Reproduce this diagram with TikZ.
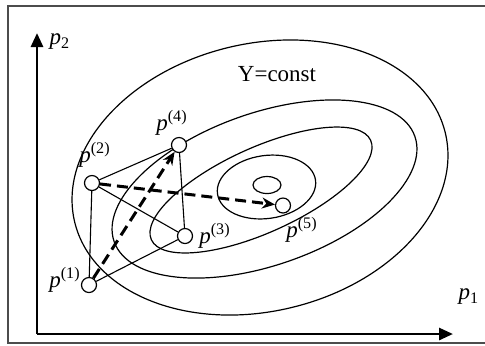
\documentclass[tikz,border=0pt]{standalone}
\usepackage{fontspec}
\setmainfont{Liberation Serif}
\usetikzlibrary{arrows.meta}

\begin{document}
\begin{tikzpicture}[x=0.5pt,y=-0.5pt,
  pt/.style={circle,draw,fill=white,minimum size=7.5pt,inner sep=0pt,line width=0.6pt},
  lbl/.style={font=\fontsize{11.5}{13}\selectfont,inner sep=0pt},
  contour/.style={line width=0.6pt},
  link/.style={line width=0.55pt},
  move/.style={line width=1.5pt,dash pattern=on 5.5pt off 3pt,-{Stealth[length=6.5pt,width=5.5pt]}},
  axis/.style={line width=1.4pt,-{Triangle[length=7pt,width=6pt]}}]
  \useasboundingbox (0,0) rectangle (485,345);
  % frame
  \draw[line width=0.9pt,black!70] (490,6) -- (8,6) -- (8,343) -- (490,343);

  % axes
  \coordinate (o) at (37,334);
  \coordinate (xend) at (453,334);
  \coordinate (yend) at (37,33);
  \draw[axis] (o) -- (xend);
  \draw[axis] (o) -- (yend);
  \node[lbl] (x1) at (469,297) {\textit{p}\textsubscript{1}};
  \node[lbl] (x2) at (60,42) {\textit{p}\textsubscript{2}};

  % level lines
  \draw[contour,rotate around={13.5:(260,177.5)}] (260,177.5) ellipse [x radius=190.6, y radius=133.8];
  \draw[contour,rotate around={19.3:(264.5,189)}] (264.5,189) ellipse [x radius=159.3, y radius=76.1];
  \draw[contour,rotate around={24.4:(261,190)}] (261,190) ellipse [x radius=120.4, y radius=42.4];
  \draw[contour,rotate around={8:(266.5,187)}] (266.5,187) ellipse [x radius=49.5, y radius=31.5];
  \draw[contour] (267,185) ellipse [x radius=14, y radius=8.5];
  \node[lbl] (yc) at (277,74) {Y=const};

  % simplex points
  \node[pt] (p1) at (89,285) {};
  \node[pt] (p2) at (92,183) {};
  \node[pt] (p3) at (185,236) {};
  \node[pt] (p4) at (179,145) {};
  \node[pt] (p5) at (283,205.5) {};
  \node[lbl] (l1) at (65,280) {\textit{p}\textsuperscript{(1)}};
  \node[lbl] (l2) at (95,155) {\textit{p}\textsuperscript{(2)}};
  \node[lbl] (l3) at (215,236) {\textit{p}\textsuperscript{(3)}};
  \node[lbl] (l4) at (172,123) {\textit{p}\textsuperscript{(4)}};
  \node[lbl] (l5) at (302,230) {\textit{p}\textsuperscript{(5)}};

  % edges and moves
  \draw[link] (p2) -- (p4) -- (p3) -- (p2) -- (p1) -- (p3);
  \draw[move] (p1) -- (p4);
  \draw[move] (p2) -- (p5);
\end{tikzpicture}
\end{document}
